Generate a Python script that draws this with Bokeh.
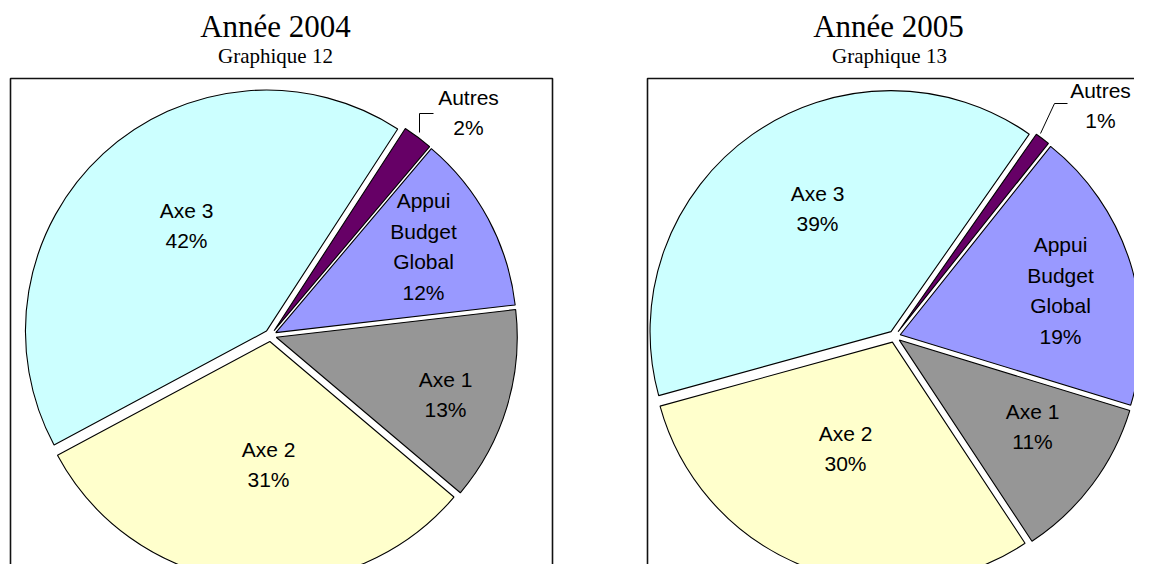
import numpy as np
from bokeh.plotting import figure
from bokeh.models import ColumnDataSource, Range1d
from bokeh.core.properties import value
from bokeh.embed import file_html
from bokeh.resources import INLINE

# ---------------- data ----------------
categories = ["Autres", "Appui Budget Global", "Axe 1", "Axe 2", "Axe 3"]
display_labels = ["Autres", "Appui\nBudget\nGlobal", "Axe 1", "Axe 2", "Axe 3"]
values_2004 = [2, 12, 13, 31, 42]
values_2005 = [1, 19, 11, 30, 39]
colors = ["#660066", "#9999FF", "#969696", "#FFFFCC", "#CCFFFF"]
titles = ["Année 2004", "Année 2005"]
subtitles = ["Graphique 12", "Graphique 13"]

# ---------------- layout (reference pixel coordinates) ----------------
W, H = 1134, 564
centers = [(270, 335), (894, 336)]
R = 241
EXPLODE = 6
start_bearing = [33, 35]
label_pos = [
    [(468, 112), (423, 246), (445, 394), (268, 464), (186, 225)],
    [(1100, 105), (1060, 290), (1032, 426), (845, 448), (817, 208)],
]
title_pos = [(275, 26), (888, 26)]
sub_pos = [(275, 55), (889, 55)]

p = figure(width=W, height=H, output_backend="svg", toolbar_location=None,
           x_range=Range1d(0, W), y_range=Range1d(-H, 0),
           x_axis_type=None, y_axis_type=None, min_border=0,
           background_fill_color="white", border_fill_color="white")
p.outline_line_color = None
p.grid.visible = False

def Y(py):
    return -py

# frames (boxes)
p.line([10, 10, 552, 552], [Y(600), Y(78), Y(78), Y(600)], line_color="#111111", line_width=1.6)
p.line([647, 647, 1160], [Y(600), Y(78), Y(78)], line_color="#111111", line_width=1.6)

for k, vals in enumerate([values_2004, values_2005]):
    cx, cy = centers[k]
    v = np.array(vals, dtype=float)
    frac = v / v.sum()
    b_end = start_bearing[k] + np.cumsum(frac) * 360.0
    b_start = b_end - frac * 360.0
    b_mid = (b_start + b_end) / 2
    xs = cx + EXPLODE * np.sin(np.radians(b_mid))
    ys = Y(cy) + EXPLODE * np.cos(np.radians(b_mid))
    src = ColumnDataSource(dict(
        x=xs, y=ys,
        start=np.radians(90 - b_end), end=np.radians(90 - b_start),
        color=colors, cat=categories))
    p.wedge(x="x", y="y", radius=R, start_angle="start", end_angle="end",
            direction="anticlock", fill_color="color", line_color="black",
            line_width=1.1, source=src)

    texts = [f"{lab}\n{int(val)}%" for lab, val in zip(display_labels, vals)]
    lx = [pt[0] for pt in label_pos[k]]
    ly = [Y(pt[1]) for pt in label_pos[k]]
    p.text(x=lx, y=ly, text=texts, text_align="center", text_baseline="middle",
           text_font=value("Liberation Sans"), text_font_size="21px",
           text_line_height=1.33, text_color="black")

    # titles
    p.text(x=[title_pos[k][0]], y=[Y(title_pos[k][1])], text=[titles[k]],
           text_align="center", text_baseline="alphabetic",
           text_font=value("Liberation Serif"), text_font_size="31px", text_color="black")
    p.text(x=[sub_pos[k][0]], y=[Y(sub_pos[k][1])], text=[subtitles[k]],
           text_align="center", text_baseline="alphabetic",
           text_font=value("Liberation Serif"), text_font_size="21px", text_color="black")

# leader lines for "Autres"
p.line([419, 419, 433], [Y(132), Y(113), Y(113)], line_color="black", line_width=1)
p.line([1040, 1054, 1067], [Y(133), Y(103), Y(103)], line_color="black", line_width=1)

open("out.html", "w").write(file_html(p, INLINE))
